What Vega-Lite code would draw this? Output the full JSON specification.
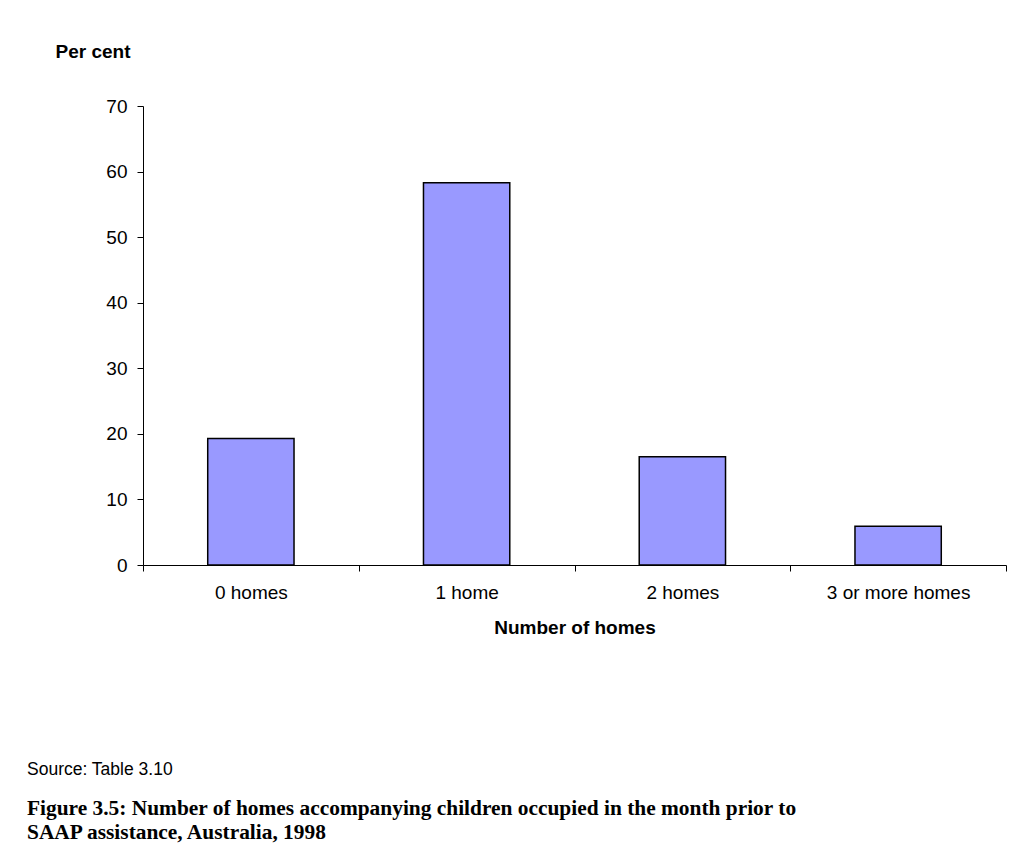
{
  "$schema": "https://vega.github.io/schema/vega-lite/v6.json",
  "width": 863,
  "height": 459,
  "autosize": {"type": "none"},
  "padding": {"left": 143, "top": 106, "right": 20, "bottom": 278},
  "background": "white",
  "config": {
    "view": {"stroke": null},
    "font": "Liberation Sans",
    "axis": {"domainColor": "black", "tickColor": "black", "labelColor": "black", "titleColor": "black", "grid": false}
  },
  "title": {
    "text": "Source: Table 3.10",
    "subtitle": ["Figure 3.5: Number of homes accompanying children occupied in the month prior to", "SAAP assistance, Australia, 1998"],
    "orient": "bottom",
    "anchor": "start",
    "frame": "group",
    "dx": -116,
    "offset": 124,
    "font": "Liberation Sans",
    "fontSize": 17.5,
    "fontWeight": "normal",
    "color": "black",
    "subtitleFont": "Liberation Serif",
    "subtitleFontSize": 21.4,
    "subtitleFontWeight": "bold",
    "subtitleColor": "black",
    "subtitleLineHeight": 24,
    "subtitlePadding": 19
  },
  "data": {
    "values": [
      {"homes": "0 homes", "pct": 19.3},
      {"homes": "1 home", "pct": 58.3},
      {"homes": "2 homes", "pct": 16.5},
      {"homes": "3 or more homes", "pct": 5.9}
    ]
  },
  "mark": {"type": "bar", "fill": "#9999FF", "stroke": "black", "strokeWidth": 1.5, "width": {"band": 0.4}},
  "encoding": {
    "x": {
      "field": "homes",
      "type": "nominal",
      "sort": null,
      "scale": {"paddingInner": 0, "paddingOuter": 0},
      "axis": {
        "title": "Number of homes",
        "titleFontSize": 19,
        "titleFontWeight": "bold",
        "titlePadding": 16,
        "labelFontSize": 19,
        "labelAngle": 0,
        "labelPadding": 12,
        "tickSize": 6,
        "tickBand": "extent"
      }
    },
    "y": {
      "field": "pct",
      "type": "quantitative",
      "scale": {"domain": [0, 70], "nice": false},
      "axis": {
        "values": [0, 10, 20, 30, 40, 50, 60, 70],
        "title": "Per cent",
        "titleAngle": 0,
        "titleAlign": "left",
        "titleBaseline": "alphabetic",
        "titleX": -88,
        "titleY": -49,
        "titleFontSize": 19,
        "titleFontWeight": "bold",
        "labelFontSize": 19,
        "labelPadding": 10,
        "tickSize": 6
      }
    }
  }
}
